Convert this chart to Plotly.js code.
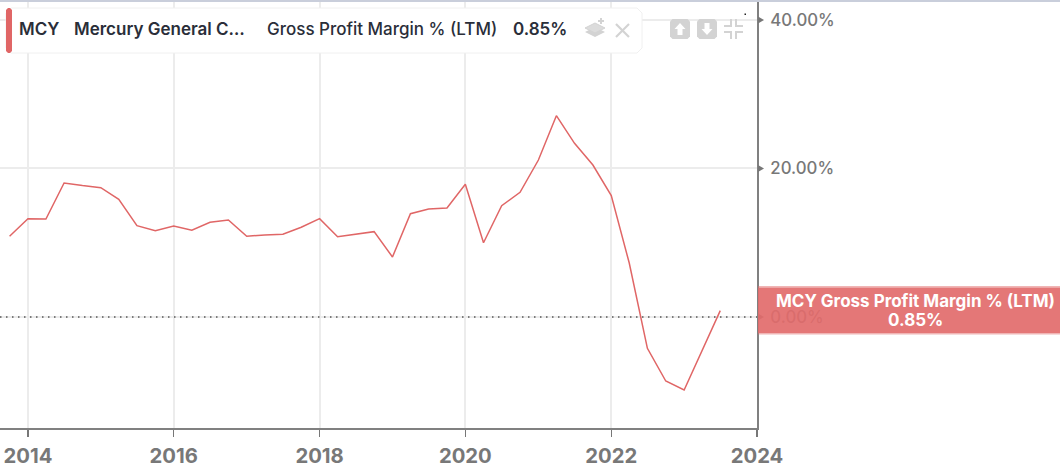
<!DOCTYPE html>
<html><head><meta charset="utf-8">
<script src="https://cdn.plot.ly/plotly-3.0.1.min.js"></script>
<style>html,body{margin:0;padding:0;background:#fff;overflow:hidden}#c{width:1060px;height:469px}</style>
</head><body><div id="c"></div>
<script>
const dates = ["2013-10-01","2014-01-01","2014-04-01","2014-07-01","2014-10-01","2015-01-01","2015-04-01","2015-07-01","2015-10-01","2016-01-01","2016-04-01","2016-07-01","2016-10-01","2017-01-01","2017-04-01","2017-07-01","2017-10-01","2018-01-01","2018-04-01","2018-07-01","2018-10-01","2019-01-01","2019-04-01","2019-07-01","2019-10-01","2020-01-01","2020-04-01","2020-07-01","2020-10-01","2021-01-01","2021-04-01","2021-07-01","2021-10-01","2022-01-01","2022-04-01","2022-07-01","2022-10-01","2023-01-01","2023-04-01","2023-07-01"];
const margins = [10.87,13.24,13.2,18.05,17.7,17.41,15.85,12.3,11.62,12.26,11.68,12.75,13.06,10.87,11.04,11.14,12.08,13.24,10.81,11.18,11.49,8.08,13.91,14.55,14.68,17.87,10.0,14.99,16.79,21.14,27.11,23.39,20.47,16.34,7.27,-4.22,-8.62,-9.83,-4.44,0.85];
const yTicks = [0,20,40];
const yTickLabels = ["0.00%","20.00%","40.00%"];
const xTicks = ["2014-01-01","2016-01-01","2018-01-01","2020-01-01","2022-01-01","2024-01-01"];
const xTickLabels = ["2014","2016","2018","2020","2022","2024"];
const ticker = "MCY", company = "Mercury General C…", metric = "Gross Profit Margin % (LTM)", lastValue = "0.85%";

const W=1060,H=469,red="#e06666",tag="rgba(226,107,107,0.92)",ic="#d3d3d3",F="Inter, sans-serif";
const X=p=>p/W, Y=p=>1-p/H;
const rect=(x0,y0,x1,y1,fill,line,lw)=>({type:"rect",xref:"paper",yref:"paper",x0:X(x0),x1:X(x1),y0:Y(y0),y1:Y(y1),fillcolor:fill,line:{color:line||fill,width:lw||0},layer:"above"});
const poly=(pts,fill,line,lw,close=true)=>({type:"path",xref:"paper",yref:"paper",path:pts.map((q,i)=>(i?"L":"M")+X(q[0])+" "+Y(q[1])).join(" ")+(close?" Z":""),fillcolor:fill||"rgba(0,0,0,0)",line:{color:line||"rgba(0,0,0,0)",width:lw||0},layer:"above"});
const rr=(x0,y0,x1,y1,r,fill,line,lw)=>poly([[x0+r,y0],[x1-r,y0],[x1,y0+r],[x1,y1-r],[x1-r,y1],[x0+r,y1],[x0,y1-r],[x0,y0+r]],fill,line,lw);

const shapes=[
 rect(0,0,W,2,"#c9cedb"),
 {type:"line",xref:"paper",yref:"y",x0:0,x1:757/W,y0:0,y1:0,line:{color:"#555",width:1.5,dash:"1.5px,4.5px"},layer:"above"},
 ...yTicks.map(v=>({type:"path",xref:"paper",yref:"y",xsizemode:"pixel",ysizemode:"pixel",xanchor:758/W,yanchor:v,path:"M0 -3.5 L6 0 L0 3.5 Z",fillcolor:"#777",line:{width:0},layer:"above"})),
 // info box
 rr(6,8,642,53,5,"#fff","#f0f0f0",1),
 rr(6,8,12,53,2,red),
 // layers icon
 poly([[585,32],[595,27],[605,32],[595,37]],ic),
 poly([[585,28],[595,23],[605,28],[595,33]],"#dcdcdc",ic,1),
 poly([[598,21],[604,21]],null,ic,2,false),
 poly([[601,18],[601,24]],null,ic,2,false),
 // close
 poly([[616,24],[629,37]],null,ic,2.2,false),
 poly([[629,24],[616,37]],null,ic,2.2,false),
 // up
 rr(670,19,690,39,2.5,ic),
 poly([[680,23],[685.5,29],[682.5,29],[682.5,35],[677.5,35],[677.5,29],[674.5,29]],"#fff"),
 // down
 rr(697,19,717,39,2.5,ic),
 poly([[707,35],[712.5,29],[709.5,29],[709.5,23],[704.5,23],[704.5,29],[701.5,29]],"#fff"),
 // compress
 poly([[731,19],[731,26],[724,26]],null,ic,2,false),
 poly([[736,19],[736,26],[743,26]],null,ic,2,false),
 poly([[731,39],[731,32],[724,32]],null,ic,2,false),
 poly([[736,39],[736,32],[743,32]],null,ic,2,false),
 rect(744.5,13.5,746,15,"#222"),
 // value tag
 rect(758,286,W,287.5,"rgba(226,107,107,0.5)"),
 rect(758,287.5,W,333,tag),
 rect(758,333,W,334.5,"rgba(226,107,107,0.5)")
];
const ann=(x,y,text,size,weight,color,anchor)=>({xref:"paper",yref:"paper",x:X(x),y:Y(y),text,showarrow:false,xanchor:anchor||"left",yanchor:"middle",borderpad:0,borderwidth:0,font:{family:F,size,weight,color}});
const annotations=[
 ann(19,29,ticker,17,600,"#2a2e39"),
 ann(74,29,company,17,600,"#2a2e39"),
 ann(267,29,metric,17,500,"#2a2e39"),
 ann(513,29,lastValue,17,600,"#2a2e39"),
 ann(915.5,301,ticker+" "+metric,17,700,"#fff","center"),
 ann(915,320,lastValue,17,700,"#fff","center")
];
Plotly.newPlot("c",[{x:dates,y:margins,type:"scatter",mode:"lines",line:{color:red,width:1.5},hoverinfo:"skip",showlegend:false}],{
 width:W,height:H,margin:{l:0,r:0,t:0,b:0,pad:0},paper_bgcolor:"#fff",plot_bgcolor:"#fff",showlegend:false,
 xaxis:{type:"date",domain:[0,757/W],range:["2013-08-14","2024-01-01"],tickmode:"array",tickvals:xTicks,ticktext:xTickLabels,ticks:"outside",ticklen:7,tickwidth:1.2,tickcolor:"#777",showline:true,linecolor:"#808080",linewidth:1.5,showgrid:true,gridcolor:"#ececec",gridwidth:2,zeroline:false,ticklabelstandoff:2,tickfont:{family:F,size:20.3,weight:700,color:"#787878"},tickangle:0},
 yaxis:{side:"right",domain:[1-428/H,1-2/H],range:[-14.95,42.42],tickmode:"array",tickvals:yTicks,ticktext:yTickLabels,ticks:"",showline:true,linecolor:"#808080",linewidth:2,showgrid:true,gridcolor:"#ececec",gridwidth:2,zeroline:false,ticklabelstandoff:8,tickfont:{family:F,size:16.8,weight:500,color:"#787878"}},
 shapes,annotations
},{staticPlot:true,displayModeBar:false});
</script></body></html>
